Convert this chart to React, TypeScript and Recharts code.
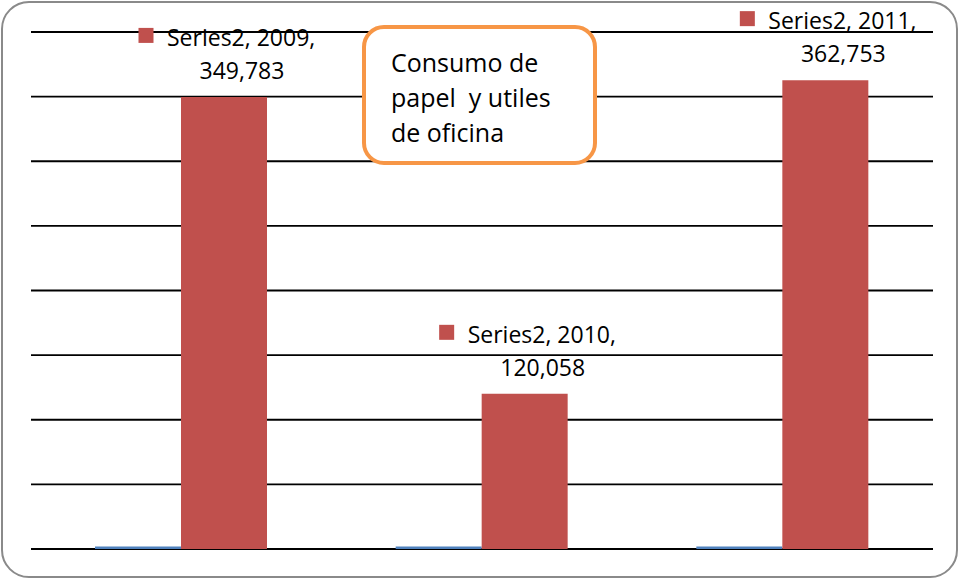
import { Bar, BarChart, CartesianGrid, LabelList, XAxis, YAxis } from 'recharts'

const years = ['2009', '2010', '2011']
const series1 = [2000, 2000, 2000]
const series2 = [349783, 120058, 362753]
const yTicks = [0, 50000, 100000, 150000, 200000, 250000, 300000, 350000, 400000]

const data = years.map((year, i) => ({ year, s1: series1[i], s2: series2[i] }))

const font = '"Open Sans", "Noto Sans", sans-serif'
const red = '#c0504d'
const blue = '#4f81bd'

function renderLabel(props: any) {
  const { x, y, width, value, index } = props
  const cx = Number(x) + Number(width) / 2
  const top = Number(y)
  return (
    <g>
      <rect x={cx - 85.5} y={top - 69} width={15} height={15} fill={red} />
      <text x={cx - 57} y={top - 51} fontSize={23} fontFamily={font} fill="#000">
        {`Series2, ${years[index]},`}
      </text>
      <text x={cx + 18} y={top - 18} fontSize={23} fontFamily={font} fill="#000" textAnchor="middle">
        {Number(value).toLocaleString('en-US')}
      </text>
    </g>
  )
}

export default function App() {
  return (
    <div style={{ position: 'relative', width: 961, height: 580, background: '#fff' }}>
      <style>{'body{margin:0}'}</style>
      <div
        style={{
          position: 'absolute',
          left: 1,
          top: 1,
          width: 957,
          height: 577,
          boxSizing: 'border-box',
          border: '2px solid #8a8a8a',
          borderRadius: 28,
          pointerEvents: 'none',
        }}
      />
      <BarChart
        width={961}
        height={580}
        data={data}
        margin={{ top: 32, right: 28, bottom: 31, left: 31 }}
        barCategoryGap={64}
        barGap={0}
      >
        <CartesianGrid vertical={false} stroke="#000" strokeWidth={1.8} />
        <XAxis dataKey="year" hide />
        <YAxis hide domain={[0, 400000]} ticks={yTicks} />
        <Bar dataKey="s1" fill={blue} isAnimationActive={false} />
        <Bar dataKey="s2" fill={red} isAnimationActive={false}>
          <LabelList dataKey="s2" content={renderLabel} />
        </Bar>
      </BarChart>
      <div
        style={{
          position: 'absolute',
          left: 362,
          top: 25,
          width: 235,
          height: 140,
          boxSizing: 'border-box',
          border: '4px solid #f79646',
          borderRadius: 22,
          background: '#fff',
          fontFamily: font,
          fontSize: 25,
          lineHeight: '35px',
          color: '#000',
          paddingLeft: 25,
          paddingTop: 16,
          whiteSpace: 'pre',
        }}
      >
        {'Consumo de\npapel  y utiles\nde oficina'}
      </div>
    </div>
  )
}
